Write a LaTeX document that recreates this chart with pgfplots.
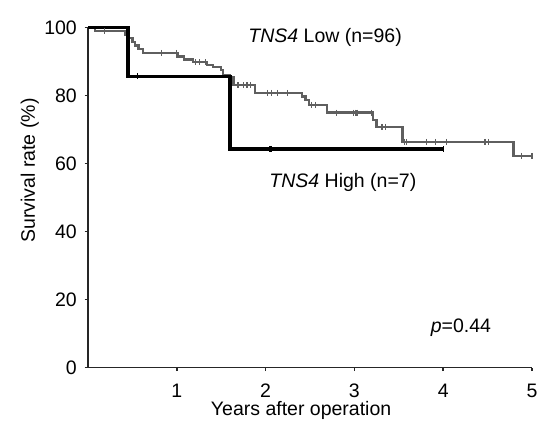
\documentclass[border=0pt]{standalone}
\usepackage{pgfplots}
\pgfplotsset{compat=1.18}
\usepackage{fontspec}
\setmainfont{Liberation Sans}
\definecolor{lowgray}{RGB}{95,95,95}
\begin{document}
\fontsize{19.5bp}{23bp}\selectfont
\begin{tikzpicture}
\useasboundingbox (0bp,0bp) rectangle (551bp,433bp);
\begin{axis}[
  at={(88bp,65.3bp)}, anchor=south west,
  scale only axis, width=444bp, height=340bp,
  xmin=0, xmax=5, ymin=0, ymax=100,
  axis lines=left,
  axis line style={-, line width=1.3bp, black!85},
  xtick={1,2,3,4,5}, ytick={0,20,40,60,80,100},
  tick align=outside,
  major tick length=3.5bp,
  ytick style={line width=1.3bp, black!85},
  xtick style={line width=1.5bp, black!85},
  y tick label style={xshift=-1bp},
  x tick label style={yshift=-6bp},
  /pgf/number format/assume math mode=true,
  xlabel={Years after operation},
  ylabel={Survival rate (\%)},
  xlabel style={at={(axis description cs:0.48,0)}, anchor=center, yshift=-43bp},
  ylabel style={at={(axis description cs:-0.131,0.58)}, anchor=center},
  clip=false,
]
% TNS4 Low (n=96)
\addplot[const plot, lowgray, line width=2.5bp] coordinates {
(0,100) (0.08,98.96) (0.42,97.9) (0.45,96.9) (0.50,95.8) (0.53,94.8) (0.57,93.7)
(0.62,92.6) (1.01,91.6) (1.08,90.6) (1.18,89.9) (1.34,89.0) (1.41,88.4) (1.50,87.6)
(1.52,86.1) (1.60,85.5) (1.64,83.1) (1.88,80.8) (2.41,79.8) (2.45,78.7) (2.49,77.3)
(2.69,75.0) (3.21,72.9) (3.25,70.8) (3.54,66.4) (4.79,62.3) (5.0,62.3)};
\addplot[only marks, mark=|, mark size=3bp, lowgray, mark options={line width=1.2bp}] coordinates {
(0.19,98.96) (0.83,92.6) (1.00,92.6) (1.21,89.9) (1.26,89.9) (1.32,89.9)
(1.69,83.1) (1.75,83.1) (1.79,83.1) (1.83,83.1) (2.02,80.8) (2.07,80.8) (2.13,80.8)
(2.25,80.8) (2.52,77.3) (2.56,77.3) (2.80,75.0) (2.99,75.0) (3.01,75.0) (3.03,75.0)
(3.19,75.0) (3.31,70.8) (3.35,70.8) (3.56,66.4) (3.59,66.4) (3.81,66.4) (3.91,66.4)
(4.04,66.4) (4.47,66.4) (4.51,66.4) (4.88,62.3) (5.0,62.3)};
% TNS4 High (n=7)
\addplot[const plot, black, line width=3.3bp] coordinates {
(0,100) (0.45,85.7) (1.60,64.3) (4.0,64.3)};
\addplot[only marks, mark=|, mark size=3bp, black, mark options={line width=1.3bp}] coordinates {
(0.56,85.7) (2.05,64.3) (2.07,64.3) (4.0,64.3)};
\node at (axis cs:2.67,97.0) {\textit{TNS4} Low (n=96)};
\node at (axis cs:2.87,54.6) {\textit{TNS4} High (n=7)};
\node at (axis cs:4.2,11.7) {\textit{p}=0.44};
\end{axis}
\end{tikzpicture}
\end{document}
